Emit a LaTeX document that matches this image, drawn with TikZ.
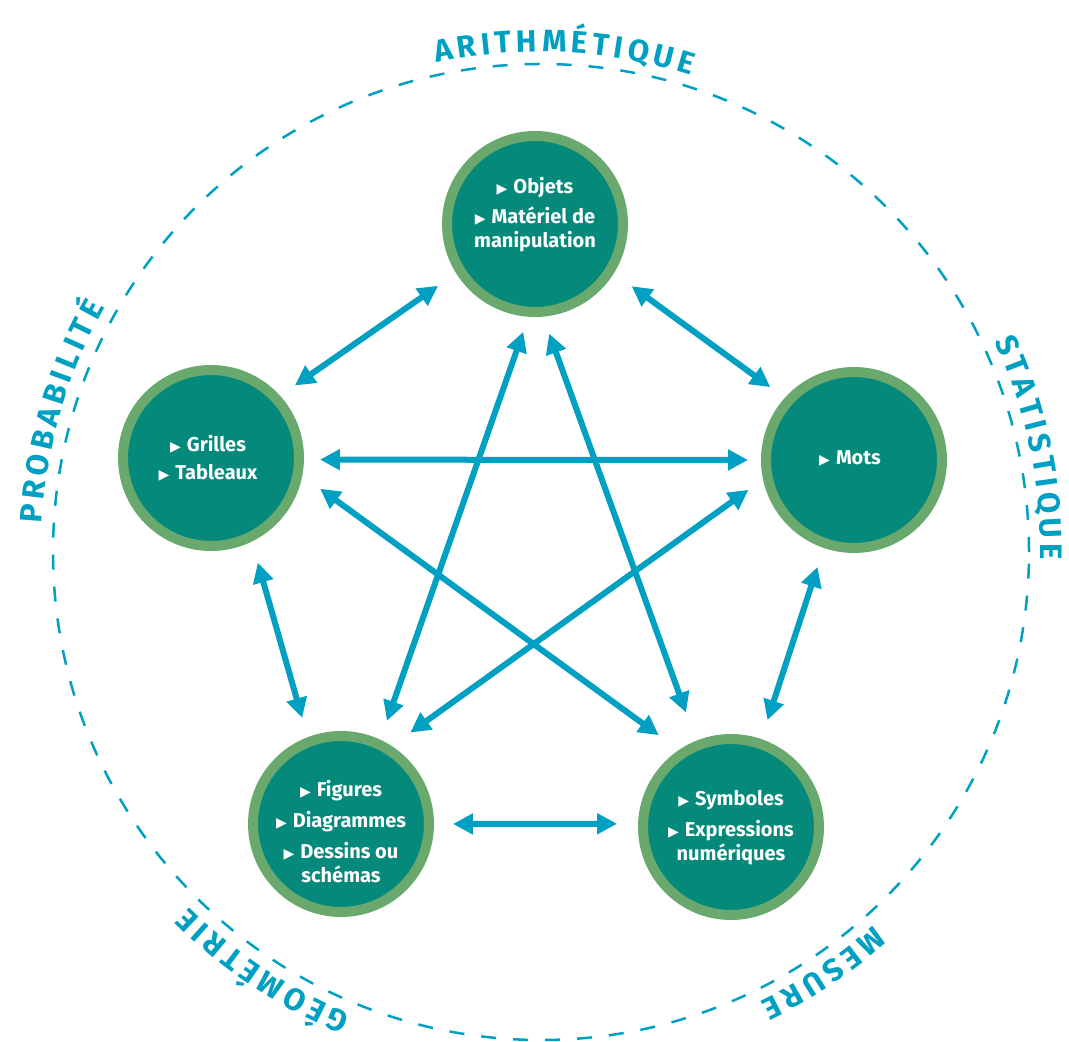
\documentclass[tikz,border=0pt]{standalone}
\usepackage{fontspec}
\setmainfont{Fira Sans}
\newfontfamily\symfont{DejaVu Sans}
\usetikzlibrary{arrows.meta,calc}
\definecolor{arrowblue}{RGB}{0,160,195}
\definecolor{tealfill}{RGB}{5,137,123}
\definecolor{ringgreen}{RGB}{106,169,110}
\newdimen\letw
\newcommand\lblfont{\fontsize{31}{31}\selectfont\bfseries}
\newcommand\trk{4.5}
\newcommand\bul{{\symfont\fontsize{14}{14}\selectfont ▶}\hspace{6pt}}
\newcommand\curvedlabel[4]{%
  \gdef\totw{0}%
  \foreach \lett in {#3}{%
    \edef\cwraw{\csname lw-\lett\endcsname}%
    \pgfmathsetmacro\cw{\cwraw}%
    \pgfmathsetmacro\tmpw{\totw+\cw+\trk}%
    \xdef\totw{\tmpw}}%
  \pgfmathsetmacro\tmpw{\totw-\trk}\xdef\totw{\tmpw}%
  \gdef\curpos{0}%
  \foreach \lett [count=\k] in {#3}{%
    \edef\cwraw{\csname lw-\lett\endcsname}%
    \pgfmathsetmacro\cw{\cwraw}%
    \pgfmathsetmacro\lang{#1+(\totw/2-\curpos-\cw/2)/#2*180/pi}%
    \node[lbl, rotate=\lang-90] (#4\k) at ([shift={(\lang:#2)}]C) {\lett};
    \pgfmathsetmacro\tmpw{\curpos+\cw+\trk}%
    \xdef\curpos{\tmpw}}%
}
\tikzset{
  hub/.style={circle, fill=tealfill, draw=ringgreen, line width=10pt,
    minimum size=176pt, inner sep=0pt, outer sep=5pt},
  hubtext/.style={text=white, font=\fontsize{20}{24}\selectfont\bfseries,
    align=center, inner sep=0pt},
  link/.style={draw=arrowblue, line width=6pt,
    {Triangle[length=20pt,width=20pt]}-{Triangle[length=20pt,width=20pt]}},
  lbl/.style={anchor=base, inner sep=0pt, font=\lblfont, text=arrowblue},
  ring/.style={draw=arrowblue, line width=2.5pt, dash pattern=on 15pt off 17pt}
}
\begin{document}
\foreach \lett in {A,B,E,G,H,I,L,M,O,P,Q,R,S,T,U,É}{%
  \settowidth{\letw}{\lblfont\lett}%
  \expandafter\xdef\csname lw-\lett\endcsname{\the\letw}}%
\begin{tikzpicture}[x=1pt,y=1pt]
\useasboundingbox (0,0) rectangle (1069,1042);
\coordinate (C) at (541,490);
\draw[ring] (C) circle[radius=488pt];

\node[hub] (T)  at (535,818) {};
\node[hub] (L)  at (211,584) {};
\node[hub] (R)  at (854,582) {};
\node[hub] (BL) at (341,218) {};
\node[hub] (BR) at (731,215) {};

\node[hubtext] (tT) at ($(T)+(0,9)$) {\bul Objets\\[6pt]\bul Matériel de\\manipulation};
\node[hubtext] (tL) at ($(L)+(-3,0)$) {\bul Grilles\\[4pt]\bul Tableaux};
\node[hubtext] (tR) at ($(R)+(-4,2)$) {\bul Mots};
\node[hubtext] (tBL) at ($(BL)+(0,-8)$) {\bul Figures\\[7pt]\bul Diagrammes\\[7pt]\bul Dessins ou\\schémas};
\node[hubtext] (tBR) at ($(BR)+(0,-1)$) {\bul Symboles\\[7pt]\bul Expressions\\numériques};

\draw[link, shorten <=22pt, shorten >=18pt] (T.-148) -- (L.42);
\draw[link, shorten <=22pt, shorten >=18pt] (T.-32) -- (R.138);
\draw[link, shorten <=16pt, shorten >=13pt] (L.-1) -- (R.180);
\draw[link, shorten <=22pt, shorten >=20pt] (L.-64) -- (BL.111);
\draw[link, shorten <=20pt, shorten >=20pt] (R.-109) -- (BR.71);
\draw[link, shorten <=19pt, shorten >=21pt] (BL.0) -- (BR.178);
\draw[link, shorten <=16pt, shorten >=20pt] (T.-94) -- (BL.65);
\draw[link, shorten <=18pt, shorten >=30pt] (T.-85) -- (BR.112);
\draw[link, shorten <=22pt, shorten >=25pt] (L.-11) -- (BR.124);
\draw[link, shorten <=18pt, shorten >=23pt] (R.192) -- (BL.57);

\curvedlabel{87.3}{500}{A,R,I,T,H,M,É,T,I,Q,U,E}{ar}
\curvedlabel{163.7}{500}{P,R,O,B,A,B,I,L,I,T,É}{pr}
\curvedlabel{12}{500}{S,T,A,T,I,S,T,I,Q,U,E}{st}
\curvedlabel{-56.2}{500}{M,E,S,U,R,E}{me}
\curvedlabel{-123.6}{500}{G,É,O,M,É,T,R,I,E}{ge}
\end{tikzpicture}
\end{document}
